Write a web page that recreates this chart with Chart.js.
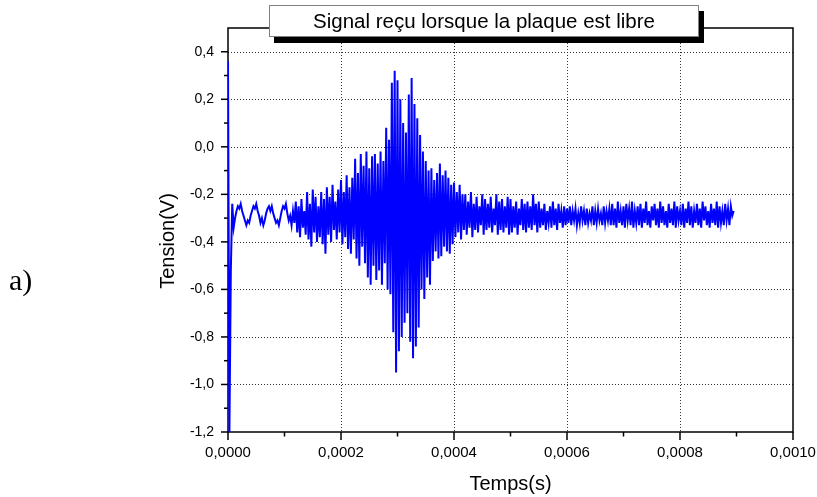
<!DOCTYPE html>
<html>
<head>
<meta charset="utf-8">
<title>Signal reçu lorsque la plaque est libre</title>
<script src="https://cdn.jsdelivr.net/npm/chart.js@4/dist/chart.umd.min.js"></script>
<style>
  body { margin: 0; background: #fff; }
  #wrap { position: relative; width: 817px; height: 497px; }
  #chart { position: absolute; left: 0; top: 0; }
  #title-box {
    position: absolute; left: 269px; top: 5px; width: 430px; height: 32px;
    box-sizing: border-box; border: 1px solid #808080; background: #fff;
    box-shadow: 5px 6px 0 #000;
    font: 20.5px Arial, "Liberation Sans", sans-serif; line-height: 30px;
    text-align: center; color: #000;
  }
  #panel-label {
    position: absolute; left: 9px; top: 265px;
    font: 30px "Times New Roman", "Liberation Serif", serif; line-height: 30px; color: #000;
  }
</style>
</head>
<body>
<div id="wrap">
  <canvas id="chart" width="817" height="497"></canvas>
  <div id="title-box">Signal reçu lorsque la plaque est libre</div>
  <div id="panel-label">a)</div>
</div>
<script>
'use strict';

// time between two samples (s)
var sampleStep = 2.5e-6;

// axis limits and tick steps
var xMin = 0;
var xMax = 0.001;
var xStep = 0.0001;
var yMin = -1.2;
var yMax = 0.5;
var yStep = 0.1;

var tension = [
  // 0 - 10 us : start spike
  0.36, -1.2, -0.52, -0.24, -0.34,
  // 12.5 - 117.5 us : quiet, slow ripple
  -0.30, -0.27, -0.25, -0.26, -0.24, -0.27, -0.29, -0.31,
  -0.33, -0.31, -0.32, -0.29, -0.27, -0.25, -0.26, -0.24,
  -0.27, -0.29, -0.32, -0.30, -0.33, -0.31, -0.28, -0.26,
  -0.25, -0.27, -0.25, -0.28, -0.30, -0.32, -0.31, -0.33,
  -0.30, -0.27, -0.25, -0.26, -0.24, -0.28, -0.31, -0.29,
  -0.33, -0.27, -0.32,
  // 120 - 137.5 us
  -0.23, -0.36, -0.25, -0.38, -0.22, -0.34, -0.27, -0.37,
  // 140 - 172.5 us
  -0.19, -0.39, -0.24, -0.42, -0.18, -0.36, -0.21, -0.40, -0.25, -0.38, -0.19, -0.41, -0.22, -0.45,
  // 175 - 197.5 us
  -0.17, -0.37, -0.21, -0.40, -0.16, -0.35, -0.23, -0.39, -0.18, -0.36,
  // 200 - 222.5 us
  -0.14, -0.41, -0.19, -0.38, -0.12, -0.43, -0.17, -0.45, -0.13, -0.39,
  // 225 - 242.5 us
  -0.05, -0.47, -0.11, -0.50, -0.03, -0.42, -0.08, -0.49,
  // 245 - 257.5 us
  -0.02, -0.55, -0.09, -0.58, -0.04, -0.50,
  // 260 - 277.5 us
  -0.03, -0.56, -0.07, -0.52, -0.02, -0.58, -0.06, -0.49,
  // 280 - 357.5 us : main burst
  0.08, -0.60, 0.03, -0.62,
  0.27, -0.78, 0.32, -0.95,
  0.28, -0.86, 0.20, -0.80,
  0.10, -0.74, 0.06, -0.70,
  0.22, -0.82, 0.29, -0.89,
  0.18, -0.84, 0.12, -0.76,
  0.05, -0.60, -0.02, -0.64,
  -0.06, -0.55, -0.10, -0.58,
  // 360 - 417.5 us : decay
  -0.09, -0.48, -0.14, -0.44, -0.11, -0.47,
  -0.07, -0.46, -0.12, -0.42, -0.10, -0.44,
  -0.13, -0.45, -0.16, -0.41,
  -0.15, -0.38, -0.19, -0.36, -0.16, -0.39, -0.20, -0.35,
  // 420 - 497.5 us
  -0.20, -0.37, -0.23, -0.34, -0.19, -0.38, -0.24, -0.35,
  -0.21, -0.36, -0.25, -0.33, -0.20, -0.37, -0.22, -0.35,
  -0.24, -0.34, -0.21, -0.36, -0.26, -0.33, -0.20, -0.37,
  -0.23, -0.35, -0.22, -0.36, -0.25, -0.34, -0.21, -0.37,
  // 500 - 547.5 us
  -0.22, -0.36, -0.25, -0.34, -0.23, -0.37, -0.26, -0.33, -0.22, -0.35,
  -0.24, -0.36, -0.23, -0.34, -0.25, -0.35, -0.20, -0.33, -0.24, -0.36,
  // 550 - 597.5 us
  -0.23, -0.34, -0.26, -0.33, -0.24, -0.35, -0.27, -0.32, -0.25, -0.34,
  -0.23, -0.33, -0.26, -0.35, -0.24, -0.32, -0.27, -0.34, -0.25, -0.33,
  // 600 - 677.5 us
  -0.26, -0.32, -0.25, -0.33, -0.27, -0.31, -0.26, -0.33, -0.28, -0.32, -0.25, -0.31,
  -0.27, -0.33, -0.26, -0.32, -0.28, -0.31, -0.25, -0.33, -0.27, -0.32, -0.26, -0.31,
  -0.28, -0.33, -0.25, -0.32, -0.27, -0.31, -0.26, -0.33,
  // 680 - 895 us : tail
  -0.24, -0.33, -0.26, -0.34, -0.23, -0.32, -0.27, -0.33, -0.25, -0.34,
  -0.24, -0.31, -0.26, -0.33, -0.23, -0.34, -0.27, -0.32, -0.25, -0.33,
  -0.24, -0.34, -0.26, -0.32, -0.23, -0.33, -0.27, -0.34, -0.25, -0.31,
  -0.24, -0.33, -0.26, -0.34, -0.23, -0.32, -0.25, -0.33, -0.27, -0.34,
  -0.24, -0.32, -0.26, -0.33, -0.23, -0.34, -0.25, -0.31, -0.27, -0.33,
  -0.24, -0.34, -0.26, -0.32, -0.23, -0.33, -0.25, -0.34, -0.27, -0.32,
  -0.24, -0.33, -0.26, -0.34, -0.23, -0.31, -0.25, -0.33, -0.27, -0.34,
  -0.24, -0.32, -0.26, -0.33, -0.23, -0.34, -0.25, -0.32, -0.27, -0.33,
  -0.24, -0.31, -0.26, -0.33, -0.25, -0.29, -0.27
];

var sansFont = 'Arial, "Liberation Sans", sans-serif';

// build x/y points for the line
var points = [];
for (var i = 0; i < tension.length; i++) {
  points.push({ x: i * sampleStep, y: tension[i] });
}

// labelled ticks every second step
function isMajorX(v) {
  return Math.round(v / xStep) % 2 === 0;
}
function isMajorY(v) {
  return Math.round(v / yStep) % 2 === 0;
}

// dotted grid, box frame and outward ticks (Origin style)
var originFrame = {
  id: 'originFrame',
  beforeDatasetsDraw: function (chart) {
    var ctx = chart.ctx;
    var area = chart.chartArea;
    var xScale = chart.scales.x;
    var yScale = chart.scales.y;
    ctx.save();

    // grid
    ctx.strokeStyle = '#333';
    ctx.lineWidth = 1;
    ctx.setLineDash([1, 2]);
    xScale.ticks.forEach(function (tick) {
      if (!isMajorX(tick.value)) return;
      var px = Math.round(xScale.getPixelForValue(tick.value)) + 0.5;
      if (px <= area.left + 2 || px >= area.right - 2) return;
      ctx.beginPath();
      ctx.moveTo(px, area.top);
      ctx.lineTo(px, area.bottom);
      ctx.stroke();
    });
    yScale.ticks.forEach(function (tick) {
      if (!isMajorY(tick.value)) return;
      var py = Math.round(yScale.getPixelForValue(tick.value)) + 0.5;
      if (py <= area.top + 2 || py >= area.bottom - 2) return;
      ctx.beginPath();
      ctx.moveTo(area.left, py);
      ctx.lineTo(area.right, py);
      ctx.stroke();
    });
    ctx.setLineDash([]);

    // frame
    ctx.strokeStyle = '#000';
    ctx.lineWidth = 1.5;
    ctx.strokeRect(area.left, area.top, area.right - area.left, area.bottom - area.top);

    // ticks
    xScale.ticks.forEach(function (tick) {
      var px = xScale.getPixelForValue(tick.value);
      var len = isMajorX(tick.value) ? 8 : 4.5;
      ctx.beginPath();
      ctx.moveTo(px, area.bottom);
      ctx.lineTo(px, area.bottom + len);
      ctx.stroke();
    });
    yScale.ticks.forEach(function (tick) {
      if (tick.value > 0.45) return;
      var py = yScale.getPixelForValue(tick.value);
      var len = isMajorY(tick.value) ? 7 : 4;
      ctx.beginPath();
      ctx.moveTo(area.left, py);
      ctx.lineTo(area.left - len, py);
      ctx.stroke();
    });
    ctx.restore();
  },
  afterDraw: function (chart) {
    // y axis title, placed as in the original figure
    var ctx = chart.ctx;
    ctx.save();
    ctx.translate(168, 241);
    ctx.rotate(-Math.PI / 2);
    ctx.fillStyle = '#000';
    ctx.font = '20px ' + sansFont;
    ctx.textAlign = 'center';
    ctx.textBaseline = 'middle';
    ctx.fillText('Tension(V)', 0, 0);
    ctx.restore();
  }
};

var ctx = document.getElementById('chart').getContext('2d');
var chart = new Chart(ctx, {
  type: 'line',
  data: {
    datasets: [{
      label: 'Tension',
      data: points,
      borderColor: '#0000ff',
      borderWidth: 2,
      pointRadius: 0,
      tension: 0,
      fill: false
    }]
  },
  options: {
    responsive: false,
    animation: false,
    events: [],
    layout: {
      autoPadding: false,
      padding: { left: 150, top: 28, right: 24, bottom: 0 }
    },
    plugins: {
      legend: { display: false },
      tooltip: { enabled: false }
    },
    scales: {
      x: {
        type: 'linear',
        min: xMin,
        max: xMax,
        afterFit: function (scale) {
          scale.height = 65;
          // labels may overhang the plot edges, as in the original
          scale.paddingLeft = 0;
          scale.paddingRight = 0;
        },
        grid: { display: false, drawTicks: false },
        border: { display: false },
        ticks: {
          stepSize: xStep,
          autoSkip: false,
          maxRotation: 0,
          padding: 12,
          color: '#000',
          font: { family: sansFont, size: 15 },
          callback: function (v) {
            return isMajorX(v) ? v.toFixed(4).replace('.', ',') : '';
          }
        },
        title: {
          display: true,
          text: 'Temps(s)',
          color: '#000',
          font: { family: sansFont, size: 20 },
          padding: { top: 0, bottom: 1 }
        }
      },
      y: {
        min: yMin,
        max: yMax,
        afterFit: function (scale) {
          scale.width = 78;
          scale.paddingTop = 0;
          scale.paddingBottom = 0;
        },
        grid: { display: false, drawTicks: false },
        border: { display: false },
        ticks: {
          stepSize: yStep,
          autoSkip: false,
          padding: 14,
          color: '#000',
          font: { family: sansFont, size: 14 },
          callback: function (v) {
            if (!isMajorY(v) || v > 0.45) return '';
            if (Math.abs(v) < 1e-9) v = 0;
            return v.toFixed(1).replace('.', ',');
          }
        }
      }
    }
  },
  plugins: [originFrame]
});
</script>
</body>
</html>
